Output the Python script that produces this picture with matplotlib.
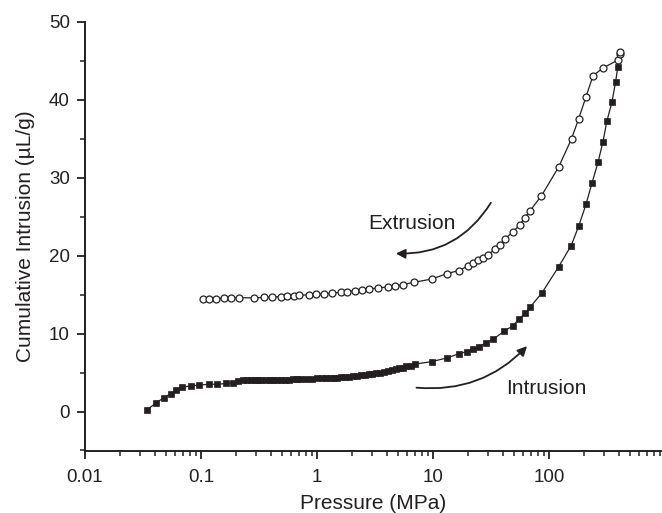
import matplotlib
matplotlib.use("Agg")
import matplotlib.pyplot as plt
from matplotlib.ticker import LogLocator, MultipleLocator, FixedLocator

plt.rcParams['font.family'] = ['Liberation Sans', 'DejaVu Sans']

# Intrusion (filled squares)
p_in = [0.034, 0.041, 0.048, 0.055, 0.061, 0.068, 0.082, 0.097, 0.116, 0.138,
        0.164, 0.187, 0.207, 0.229, 0.25, 0.27, 0.29, 0.31, 0.33, 0.36, 0.39,
        0.42, 0.45, 0.49, 0.53, 0.57, 0.62, 0.67, 0.72, 0.80, 0.90, 0.99,
        1.11, 1.2, 1.3, 1.4, 1.5, 1.62, 1.75, 1.9, 2.05, 2.2, 2.4, 2.6, 2.8,
        3.0, 3.25, 3.5, 3.8, 4.1, 4.4, 4.75, 5.1, 5.5, 5.9, 6.4, 7.0,
        9.7, 13.3, 16.6, 19.5, 22.3, 24.9, 28.4, 33.0, 41.0, 48.5, 55.5, 61.8,
        68.7, 86.5, 121, 155, 180, 208, 234, 264, 291, 315, 348, 374, 391, 406]
v_in = [0.2, 1.1, 1.8, 2.3, 2.8, 3.1, 3.3, 3.4, 3.5, 3.5,
        3.6, 3.7, 3.9, 4.0, 4.05, 4.05, 4.05, 4.05, 4.05, 4.1, 4.1,
        4.1, 4.1, 4.1, 4.1, 4.1, 4.15, 4.15, 4.15, 4.15, 4.2, 4.25,
        4.3, 4.3, 4.3, 4.35, 4.35, 4.4, 4.4, 4.45, 4.5, 4.55, 4.65, 4.7, 4.8,
        4.85, 4.9, 5.0, 5.1, 5.2, 5.3, 5.45, 5.55, 5.65, 5.8, 5.9, 6.1,
        6.4, 6.9, 7.4, 7.7, 8.0, 8.3, 8.8, 9.3, 10.3, 11.0, 11.9, 12.6,
        13.4, 15.2, 18.6, 21.3, 23.8, 26.6, 29.3, 32.0, 34.6, 37.3, 39.7, 42.3, 44.2, 46.0]

# Extrusion (open circles)
p_ex = [0.103, 0.118, 0.135, 0.159, 0.182, 0.211, 0.288, 0.351, 0.413, 0.488,
        0.556, 0.635, 0.70, 0.853, 0.975, 1.15, 1.35, 1.60, 1.82, 2.12,
        2.45, 2.79, 3.35, 4.09, 4.74, 5.5, 6.9, 9.7, 13.2, 16.6,
        20.2, 22.3, 24.6, 27.1, 29.9, 34.2, 37.8, 41.7, 48.4, 56.1,
        61.8, 68.7, 86, 121, 156, 180, 208, 239, 291, 391, 405, 412]
v_ex = [14.5, 14.5, 14.5, 14.55, 14.55, 14.6, 14.6, 14.65, 14.7, 14.75,
        14.8, 14.85, 14.9, 15.0, 15.05, 15.1, 15.2, 15.3, 15.4, 15.5,
        15.6, 15.75, 15.85, 16.0, 16.1, 16.3, 16.6, 17.0, 17.7, 18.1,
        18.7, 19.1, 19.4, 19.7, 20.1, 20.9, 21.4, 22.2, 23.0, 24.0,
        24.9, 25.8, 27.7, 31.4, 35.0, 37.6, 40.4, 43.1, 44.1, 45.1, 45.9, 46.2]

ink = '#231f20'

fig = plt.figure(figsize=(6.62, 5.13), dpi=100)
ax = fig.add_axes([85/662, 1 - 450.5/513, 577/662, (450.5 - 22)/513])

ax.plot(p_in, v_in, '-', color=ink, lw=0.9, marker='s', ms=5,
        mfc=ink, mec=ink, mew=0.5)
ax.plot(p_ex, v_ex, '-', color=ink, lw=0.9, marker='o', ms=5,
        mfc='white', mec=ink, mew=0.9)

ax.set_xscale('log')
ax.set_xlim(0.01, 940)
ax.set_ylim(-5, 50)

ax.xaxis.set_major_locator(FixedLocator([0.01, 0.1, 1, 10, 100]))
ax.xaxis.set_major_formatter(plt.FixedFormatter(['0.01', '0.1', '1', '10', '100']))
ax.xaxis.set_minor_locator(LogLocator(base=10, subs=range(2, 10), numticks=20))
ax.yaxis.set_major_locator(FixedLocator([0, 10, 20, 30, 40, 50]))
ax.yaxis.set_minor_locator(MultipleLocator(5))

for s in ['top', 'right']:
    ax.spines[s].set_visible(False)
for s in ['left', 'bottom']:
    ax.spines[s].set_linewidth(1.4)
    ax.spines[s].set_color(ink)

ax.tick_params(which='major', direction='out', length=6, width=1.3,
               labelsize=13.5, colors=ink, pad=5)
ax.tick_params(axis='x', which='major', pad=7)
ax.tick_params(which='minor', direction='out', length=3.5, width=1.1, colors=ink)

ax.set_xlabel('Pressure (MPa)', fontsize=15, color=ink, labelpad=6)
ax.set_ylabel('Cumulative Intrusion (\u00b5L/g)', fontsize=15, color=ink, labelpad=10)

# arrows and labels
ax.annotate('', xy=(4.52, 20.3), xytext=(32.4, 27.1),
            arrowprops=dict(arrowstyle='-|>', color=ink, lw=1.3,
                            mutation_scale=14,
                            connectionstyle='arc3,rad=-0.3'))
ax.text(6.53, 24.1, 'Extrusion', fontsize=15, color=ink, ha='center', va='center')

ax.annotate('', xy=(67, 8.65), xytext=(6.81, 3.1),
            arrowprops=dict(arrowstyle='-|>', color=ink, lw=1.3,
                            mutation_scale=14,
                            connectionstyle='arc3,rad=0.25'))
ax.text(94, 2.9, 'Intrusion', fontsize=15, color=ink, ha='center', va='center')

fig.savefig('out.png', dpi=100)
